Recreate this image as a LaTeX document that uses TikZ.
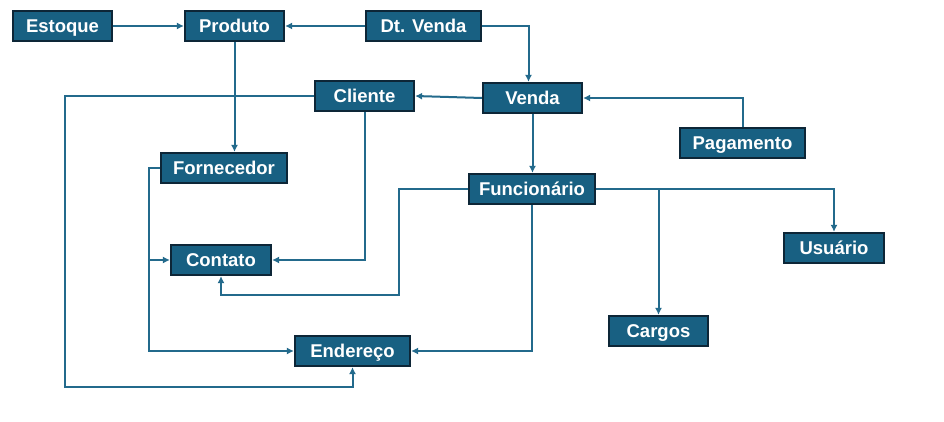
\documentclass[tikz,border=0pt]{standalone}
\usepackage{fontspec}
\setmainfont{Liberation Sans}
\usepackage{tikz}
\usetikzlibrary{arrows.meta,positioning,calc}
\definecolor{caixafundo}{HTML}{186082}
\definecolor{caixaborda}{HTML}{0D2637}
\definecolor{linha}{HTML}{236A8C}
\tikzset{
  caixa/.style={rectangle, draw=caixaborda, line width=2.2pt, fill=caixafundo, text=white,
                font=\fontsize{18.5}{21}\selectfont\bfseries, minimum height=30pt,
                minimum width=#1, inner sep=0pt, text height=16.5pt, text depth=3pt},
  seta/.style={-{Latex[length=7pt,width=7pt]}, line width=2pt, draw=linha},
}

\begin{document}
\begin{tikzpicture}[x=1pt,y=-1pt]
    \useasboundingbox[fill=white] (0,0) rectangle (944,422);
    \node[caixa=99pt] (estoque) at (62.5,26) {Estoque};
    \node[caixa=99pt] (produto) at (234.5,26) {Produto};
    \node[caixa=115pt] (dtvenda) at (423.5,26) {Dt. Venda};
    \node[caixa=99pt] (cliente) at (364.5,96) {Cliente};
    \node[caixa=99pt] (venda) at (532.5,98) {Venda};
    \node[caixa=125pt] (pagamento) at (742.5,143) {Pagamento};
    \node[caixa=126pt] (fornecedor) at (224,168) {Fornecedor};
    \node[caixa=126pt] (funcionario) at (532,189) {Funcionário};
    \node[caixa=100pt] (usuario) at (834,248) {Usuário};
    \node[caixa=100pt] (contato) at (221,260) {Contato};
    \node[caixa=99pt] (cargos) at (658.5,331) {Cargos};
    \node[caixa=115pt] (endereco) at (352.5,351) {Endereço};
    \draw[seta] (estoque) -- (produto);
    \draw[seta] (dtvenda) -- (produto);
    \draw[seta] (dtvenda.east) -| ([xshift=-4pt]venda.north);
    \draw[seta] (produto.south) -- (produto.south |- fornecedor.north);
    \draw[seta] (venda.west) -- (cliente.east);
    \draw[seta] (pagamento.north) |- (venda.east);
    \draw[seta] (venda.south) -- (venda.south |- funcionario.north);
    \draw[seta] (cliente.west) -- ++(-249,0) |- ($(endereco.south)+(0,20)$) -- (endereco.south);
    \draw[seta] (cliente.south) |- (contato.east);
    \draw[seta] (fornecedor.west) -- ++(-11,0) |- (endereco.west);
    \draw[seta] (fornecedor.west) -- ++(-11,0) |- (contato.west);
    \draw[seta] (funcionario.west) -- ++(-69,0) |- ($(contato.south)+(0,19)$) -- (contato.south);
    \draw[seta] (funcionario.south) |- (endereco.east);
    \draw[seta] (funcionario.east) -| (usuario.north);
    \draw[seta] (funcionario.east) -| (cargos.north);
  \end{tikzpicture}
\end{document}
